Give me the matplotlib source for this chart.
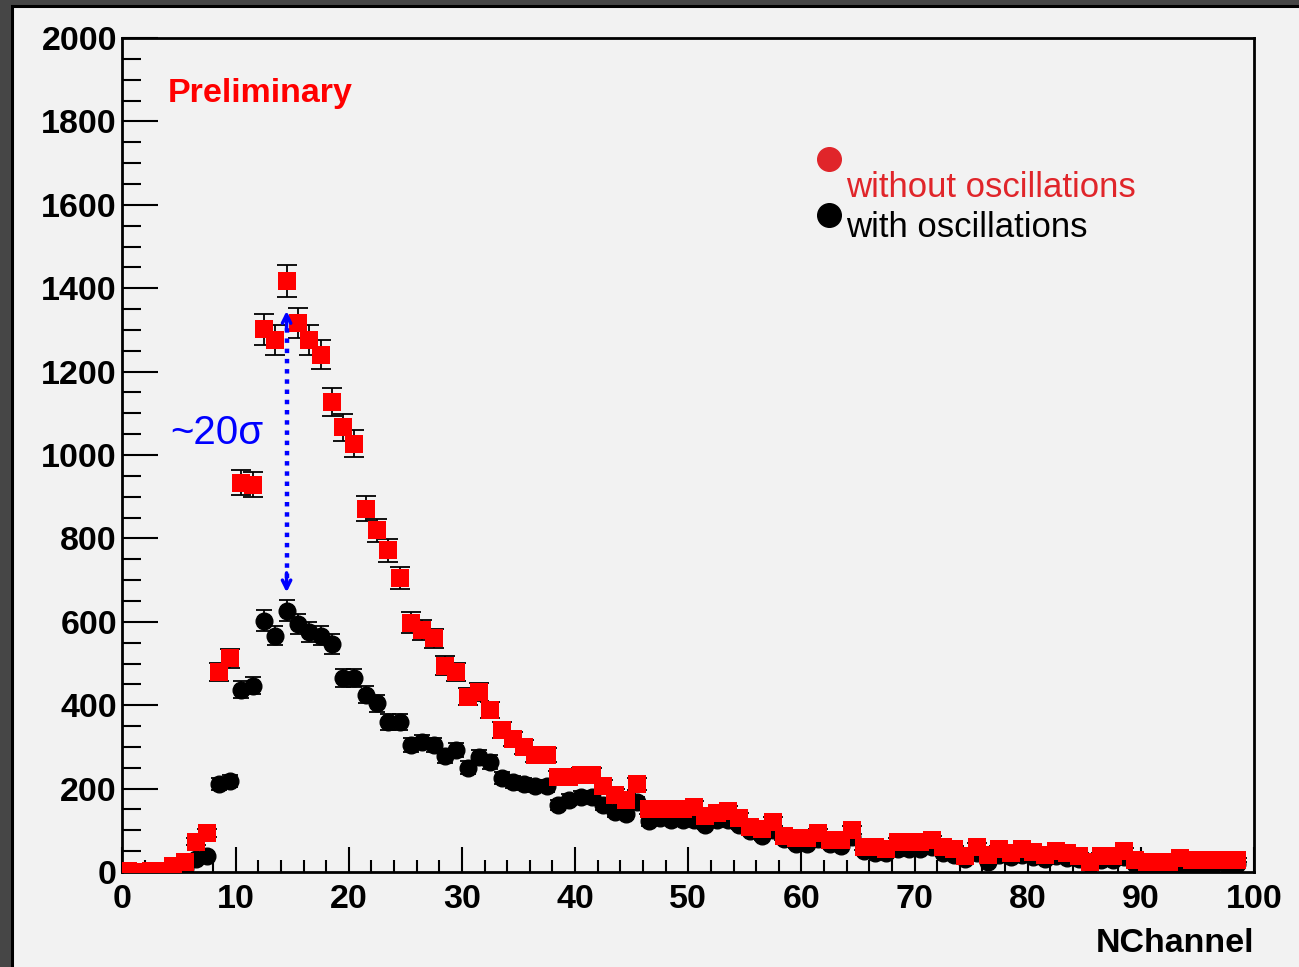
import numpy as np
import matplotlib.pyplot as plt
from matplotlib.patches import Rectangle
from matplotlib.ticker import MultipleLocator

# bin contents, bins 0..98 (width 1)
without_osc = [2, 1, 2, 3, 15, 23, 73, 93, 480, 512,
               934, 929, 1301, 1275, 1417, 1316, 1275, 1241, 1128, 1066,
               1027, 871, 819, 771, 706, 598, 581, 560, 495, 480,
               420, 432, 389, 341, 319, 300, 281, 281, 228, 228,
               233, 233, 206, 185, 173, 211, 151, 151, 151, 151,
               157, 135, 141, 146, 130, 109, 103, 121, 87, 82,
               82, 94, 76, 76, 100, 61, 61, 55, 73, 73,
               73, 77, 61, 55, 39, 61, 41, 55, 46, 55,
               49, 41, 50, 46, 39, 25, 39, 39, 50, 29,
               25, 25, 25, 34, 29, 29, 29, 29, 29]
with_osc = [1, 1, 2, 2, 6, 10, 31, 38, 211, 218,
            437, 447, 603, 567, 627, 595, 576, 567, 547, 466,
            466, 425, 405, 360, 360, 305, 312, 305, 279, 293,
            250, 276, 264, 225, 216, 211, 206, 206, 161, 173,
            180, 180, 161, 144, 139, 168, 122, 130, 125, 125,
            125, 113, 125, 125, 113, 98, 86, 100, 78, 66,
            66, 78, 66, 62, 85, 50, 45, 45, 55, 55,
            55, 60, 45, 40, 30, 45, 25, 40, 35, 40,
            35, 30, 38, 34, 32, 18, 28, 28, 36, 20,
            17, 17, 17, 15, 15, 20, 20, 20, 20]
peak_bin = 14.5
arrow_low, arrow_high = 664, 1352

red = np.array(without_osc, dtype=float)
blk = np.array(with_osc, dtype=float)
x = np.arange(len(red)) + 0.5

fig = plt.figure(figsize=(12.99, 9.67), dpi=100, facecolor='#464646')
fig.patches.append(Rectangle((11.5 / 1299, -0.02), 1.1, 1.02 - 6 / 967,
                             transform=fig.transFigure, facecolor='#f2f2f2',
                             edgecolor='black', linewidth=2.2, zorder=-10))

ax = fig.add_axes([122.5 / 1299, 1 - 872 / 967, 1131.5 / 1299, 834 / 967])
ax.set_facecolor('#f2f2f2')

ax.errorbar(x, blk, yerr=np.sqrt(blk), fmt='none', ecolor='black',
            elinewidth=1.3, capsize=6, capthick=1.3, zorder=2)
ax.plot(x, blk, 'o', color='black', markersize=12, zorder=3)
ax.errorbar(x, red, yerr=np.sqrt(red), fmt='none', ecolor='black',
            elinewidth=1.3, capsize=7, capthick=1.3, zorder=4)
ax.plot(x, red, 's', color='#ff0000', markersize=13, markeredgewidth=0, zorder=5)

ax.set_xlim(0, 100)
ax.set_ylim(0, 2000)
ax.xaxis.set_major_locator(MultipleLocator(10))
ax.xaxis.set_minor_locator(MultipleLocator(2))
ax.yaxis.set_major_locator(MultipleLocator(200))
ax.yaxis.set_minor_locator(MultipleLocator(50))
ax.tick_params(axis='x', which='major', direction='in', length=18, width=1.5, pad=9)
ax.tick_params(axis='x', which='minor', direction='in', length=9, width=1.5)
ax.tick_params(axis='y', which='major', direction='in', length=26, width=1.5, pad=4)
ax.tick_params(axis='y', which='minor', direction='in', length=14, width=1.5)
for lab in ax.get_xticklabels() + ax.get_yticklabels():
    lab.set_fontfamily('Liberation Sans')
    lab.set_fontweight('bold')
    lab.set_fontsize(24.5)
for s in ax.spines.values():
    s.set_linewidth(2)
    s.set_color('black')

ax.set_xlabel('NChannel', fontfamily='Liberation Sans', fontweight='bold',
              fontsize=24.5, ha='right', va='center')
ax.xaxis.set_label_coords(1.0, -0.086)

ax.text(0.040, 0.933, 'Preliminary', transform=ax.transAxes, color='#ff0000',
        fontfamily='Liberation Sans', fontweight='bold', fontsize=24.5, va='center')
ax.text(0.042, 0.526, '~20σ', transform=ax.transAxes, color='#0000ff',
        fontfamily='Liberation Sans', fontsize=29, va='center')

# dotted double arrow between the two peaks
ax.plot([peak_bin, peak_bin], [arrow_low + 40, arrow_high - 40], color='#0000ff',
        linewidth=3.2, linestyle=(0, (1, 1.3)), zorder=6)
for tip, tail in [(arrow_high, arrow_high - 60), (arrow_low, arrow_low + 60)]:
    ax.annotate('', xy=(peak_bin, tip), xytext=(peak_bin, tail),
                arrowprops=dict(arrowstyle='->,head_length=0.6,head_width=0.3',
                                color='#0000ff', lw=2.5), zorder=6)

# legend
ax.plot([0.6244], [0.855], 'o', color='#e0252a', markersize=17, transform=ax.transAxes)
ax.plot([0.6244], [0.788], 'o', color='black', markersize=17, transform=ax.transAxes)
ax.text(0.6394, 0.809, 'without oscillations', transform=ax.transAxes, color='#e0252a',
        fontfamily='Liberation Sans', fontsize=25, va='baseline')
ax.text(0.6394, 0.761, 'with oscillations', transform=ax.transAxes, color='black',
        fontfamily='Liberation Sans', fontsize=25, va='baseline')

fig.savefig('out.png', dpi=100, facecolor=fig.get_facecolor())
